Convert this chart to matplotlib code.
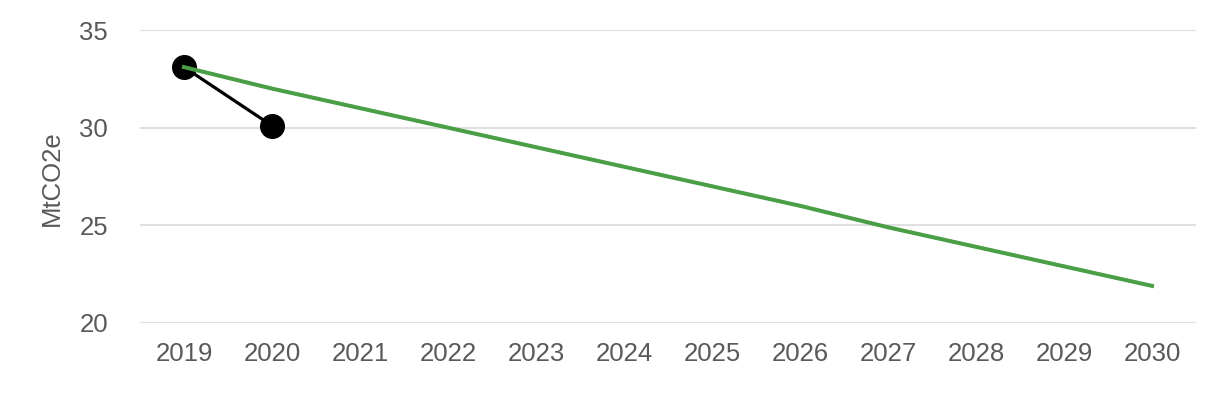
import matplotlib
matplotlib.use("Agg")
import matplotlib.pyplot as plt

years = [2019, 2020, 2021, 2022, 2023, 2024, 2025, 2026, 2027, 2028, 2029, 2030]
pathway = [33.1, 32.0, 31.0, 30.0, 29.0, 28.0, 27.0, 26.0, 24.9, 23.9, 22.9, 21.9]
actual_years = [2019, 2020]
actual = [33.1, 30.1]
yticks = [20, 25, 30, 35]

plt.rcParams['font.family'] = ['Liberation Sans', 'DejaVu Sans']
fig = plt.figure(figsize=(12.26, 4), dpi=100)
ax = fig.add_axes([140/1226, 1-323/400, (1196-140)/1226, (323-30)/400])

ax.plot(actual_years, actual, color='black', lw=2.3, marker='o', markersize=17, zorder=3)
ax.plot(years, pathway, color='#4a9e45', lw=2.9, zorder=4)

ax.set_xlim(2018.5, 2030.5)
ax.set_ylim(20, 35)
ax.set_yticks(yticks)
ax.set_xticks(years)
ax.set_xticklabels([str(y) for y in years])
ax.grid(axis='y', color='#e0e0e0', lw=1.5)
ax.set_axisbelow(True)
for s in ax.spines.values():
    s.set_visible(False)
ax.tick_params(length=0, labelsize=18.5, colors='#595959')
ax.tick_params(axis='x', pad=14)
ax.tick_params(axis='y', pad=23)
fig.text(52/1226, 1-178/400, 'MtCO2e', rotation=90, ha='center', va='center',
         fontsize=18.5, color='#595959')

fig.savefig('out.png', dpi=100)
